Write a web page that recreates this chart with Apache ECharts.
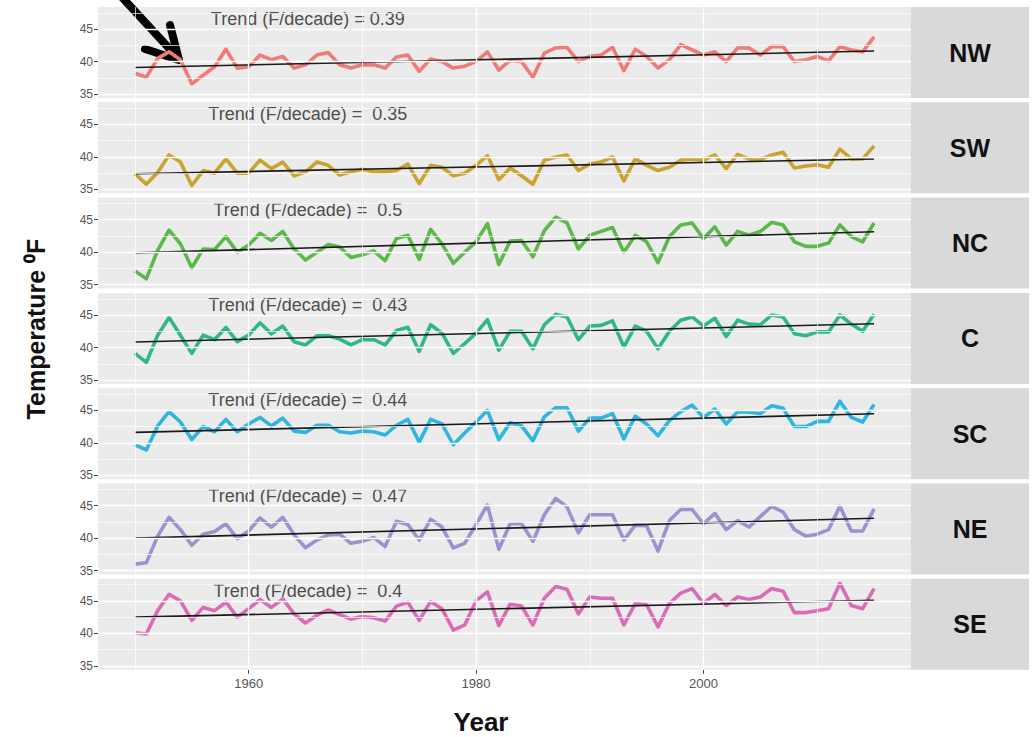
<!DOCTYPE html>
<html><head><meta charset="utf-8">
<script src="https://cdn.jsdelivr.net/npm/echarts@6/dist/echarts.min.js"></script>
<style>html,body{margin:0;padding:0;background:#fff}#c{width:1033px;height:737px}</style>
</head><body><div id="c"></div>
<script>
const years = [1950,1951,1952,1953,1954,1955,1956,1957,1958,1959,1960,1961,1962,1963,1964,1965,1966,1967,1968,1969,
  1970,1971,1972,1973,1974,1975,1976,1977,1978,1979,1980,1981,1982,1983,1984,1985,1986,1987,1988,1989,
  1990,1991,1992,1993,1994,1995,1996,1997,1998,1999,2000,2001,2002,2003,2004,2005,2006,2007,2008,2009,
  2010,2011,2012,2013,2014,2015];
const regions = ['NW','SW','NC','C','SC','NE','SE'];

const NW = [38.2,37.6,40.5,41.5,40.3,36.6,37.9,39.2,41.9,39.0,39.2,41.0,40.3,40.8,39.0,39.5,41.0,41.4,39.5,39.0,
  39.5,39.5,39.0,40.7,41.0,38.5,40.4,40.0,39.0,39.3,40.0,41.5,38.7,40.2,40.0,37.6,41.3,42.1,42.2,40.0,
  40.8,41.0,42.2,38.6,41.9,40.8,39.0,40.3,42.6,41.8,41.0,41.5,40.0,42.1,42.1,41.0,42.3,42.3,40.0,40.3,
  40.8,40.1,42.3,41.8,41.5,43.8];
const SW = [37.4,35.8,37.6,40.3,39.2,35.6,37.9,37.5,39.7,37.5,37.5,39.5,38.2,39.2,37.1,37.7,39.2,38.7,37.2,37.7,
  38.1,37.7,37.7,37.9,38.9,35.9,38.7,38.4,37.1,37.5,38.7,40.2,36.5,38.3,37.1,35.8,39.5,40.0,40.3,37.9,
  38.9,39.2,40.0,36.3,39.7,38.7,37.9,38.4,39.5,39.7,39.5,40.3,38.2,40.4,39.7,39.6,40.3,40.7,38.3,38.6,
  38.8,38.4,41.2,39.7,39.7,41.7];
const NC = [37.1,35.9,40.3,43.4,41.3,37.6,40.5,40.4,42.4,40.0,41.1,42.9,41.8,43.2,40.5,38.8,40.0,41.2,40.8,39.2,
  39.6,40.2,38.7,42.1,42.6,38.9,43.5,41.3,38.3,40.0,41.6,44.4,38.1,41.7,41.8,39.3,43.3,45.4,44.5,40.5,
  42.6,43.2,43.8,40.0,42.6,41.6,38.4,42.4,44.2,44.5,42.1,43.9,41.1,43.2,42.6,43.2,44.6,44.2,41.6,40.9,
  40.9,41.4,44.2,42.4,41.6,44.5];
const C = [39.1,37.7,41.9,44.6,41.9,39.1,41.9,41.2,43.1,40.9,41.9,43.8,42.1,43.3,40.9,40.4,41.8,41.8,41.3,40.4,
  41.2,41.2,40.4,42.6,43.1,39.4,43.5,42.2,39.1,40.6,42.2,44.3,39.6,42.5,42.5,39.8,43.5,45.1,44.7,41.2,
  43.3,43.4,44.1,40.1,43.3,42.5,39.8,42.5,44.2,44.7,43.3,44.5,41.7,44.2,43.6,43.5,45.0,44.7,42.1,41.8,
  42.4,42.4,45.0,43.6,42.5,45.1];
const SC = [39.7,38.9,42.6,44.8,43.2,40.5,42.5,41.7,43.6,41.7,42.9,43.9,42.6,43.8,41.8,41.6,42.7,42.7,41.7,41.5,
  41.8,41.7,41.2,42.7,43.6,40.1,43.6,42.9,39.7,41.5,43.2,45.0,40.5,43.1,42.6,40.3,44.0,45.4,45.4,41.8,
  43.8,43.8,44.5,40.6,44.1,42.9,41.1,43.4,44.8,45.8,43.9,45.2,42.9,44.8,44.7,44.5,45.7,45.3,42.5,42.5,
  43.3,43.3,46.4,43.9,43.2,45.9];
const NE = [36.0,36.2,40.3,43.2,41.3,38.9,40.6,41.0,42.2,39.9,41.1,43.1,41.7,43.2,40.5,38.5,39.7,40.5,40.6,39.2,
  39.5,40.1,38.7,42.6,42.1,39.7,42.9,41.7,38.5,39.2,42.1,45.1,38.3,42.2,42.2,39.5,43.6,46.1,44.8,40.8,
  43.6,43.6,43.6,39.7,42.0,41.9,38.0,42.7,44.4,44.4,42.2,43.8,41.3,42.7,41.7,43.3,44.9,44.0,41.3,40.3,
  40.6,41.3,44.9,41.1,41.1,44.5];
const SE = [40.1,39.9,43.5,46.0,45.0,42.0,44.0,43.5,44.8,42.5,43.8,45.2,44.0,45.3,43.0,41.6,42.8,43.6,42.9,42.2,
  42.6,42.4,41.9,44.2,44.8,42.0,44.9,43.8,40.5,41.3,45.0,46.4,41.2,44.5,44.2,41.3,45.4,47.2,46.8,43.0,
  45.6,45.4,45.4,41.3,44.6,44.4,41.0,44.6,46.2,46.9,44.6,46.0,44.3,45.6,45.2,45.6,46.9,46.5,43.2,43.2,
  43.5,43.8,47.7,44.3,43.8,46.9];
const seriesValues = [NW, SW, NC, C, SC, NE, SE];

const trendRates = [0.39, 0.35, 0.5, 0.43, 0.44, 0.47, 0.4];          // F per decade
const trendAt1950 = [39.1, 37.4, 39.9, 40.85, 41.6, 40.0, 42.5];       // fitted value at first year
const trendLabels = ['Trend (F/decade) = 0.39','Trend (F/decade) =  0.35','Trend (F/decade) =  0.5',
  'Trend (F/decade) =  0.43','Trend (F/decade) =  0.44','Trend (F/decade) =  0.47','Trend (F/decade) =  0.4'];
const labelPos = [1965.2, 46.55];

const yTicks = [35, 40, 45];
const yMinor = [37.5, 42.5, 47.5];
const xTicks = [1960, 1980, 2000];
const xMinor = [1950, 1970, 1990, 2010];
const colors = ['#F07A76','#C9A22F','#5CB84A','#2FB78B','#2EB5E0','#9B92CF','#DA6CB5'];

// layout
const L = 98, W = 813, TOP0 = 7, STEP = 95.3, H = 91, STRIP_W = 118;
const FONT = '"Liberation Sans", Arial, Helvetica, sans-serif';
const xMin = 1946.75, xMax = 2018.25, yMin = 34.4, yMax = 48.4;

const grids = [], xAxes = [], yAxes = [], series = [], graphics = [];
regions.forEach((r, i) => {
  const top = TOP0 + i * STEP;
  const last = i === regions.length - 1;
  grids.push({left: L, top: top, width: W, height: H, show: true, backgroundColor: '#EBEBEB', borderWidth: 0});
  xAxes.push({type: 'value', gridIndex: i, min: xMin, max: xMax,
    axisLine: {show: false}, splitLine: {show: false},
    axisTick: {show: last, customValues: xTicks, length: 4, lineStyle: {color: '#444', width: 1}},
    axisLabel: {show: last, customValues: xTicks, formatter: v => String(v), color: '#555', fontSize: 13, margin: 7, fontFamily: FONT}});
  yAxes.push({type: 'value', gridIndex: i, min: yMin, max: yMax,
    axisLine: {show: false}, splitLine: {show: false},
    axisTick: {show: true, customValues: yTicks, length: 4, lineStyle: {color: '#444', width: 1}},
    axisLabel: {customValues: yTicks, formatter: v => String(v), color: '#555', fontSize: 12, margin: 5, fontFamily: FONT}});
  const gl = [];
  yTicks.forEach(v => gl.push({yAxis: v, lineStyle: {color: '#fff', width: 1.4, type: 'solid'}}));
  yMinor.forEach(v => gl.push({yAxis: v, lineStyle: {color: '#fff', width: 0.7, type: 'solid'}}));
  xTicks.forEach(v => gl.push({xAxis: v, lineStyle: {color: '#fff', width: 1.4, type: 'solid'}}));
  xMinor.forEach(v => gl.push({xAxis: v, lineStyle: {color: '#fff', width: 0.7, type: 'solid'}}));
  series.push({type: 'line', xAxisIndex: i, yAxisIndex: i, data: [[years[0], seriesValues[i][0]]], showSymbol: false,
    lineStyle: {opacity: 0}, silent: true, z: 1, animation: false,
    markLine: {silent: true, symbol: ['none','none'], label: {show: false}, animation: false, data: gl}});
  series.push({type: 'line', xAxisIndex: i, yAxisIndex: i, name: r,
    data: years.map((y, k) => [y, seriesValues[i][k]]), showSymbol: false, z: 2, animation: false,
    lineStyle: {color: colors[i], width: 3.6, join: 'round'}, itemStyle: {color: colors[i]}});
  const y0 = years[0], y1 = years[years.length - 1];
  series.push({type: 'line', xAxisIndex: i, yAxisIndex: i, z: 3, animation: false, showSymbol: false,
    data: [[y0, trendAt1950[i]], [y1, trendAt1950[i] + trendRates[i] * (y1 - y0) / 10]],
    lineStyle: {color: '#1a1a1a', width: 1.6}});
  series.push({type: 'scatter', xAxisIndex: i, yAxisIndex: i, z: 4, animation: false, silent: true,
    symbolSize: 1, itemStyle: {color: 'rgba(0,0,0,0)'},
    data: [labelPos],
    label: {show: true, position: 'inside', formatter: trendLabels[i], color: '#222', fontSize: 18, fontFamily: FONT}});
  graphics.push({type: 'rect', shape: {x: L + W, y: top, width: STRIP_W, height: H}, style: {fill: '#D9D9D9'}, silent: true});
  graphics.push({type: 'text', x: L + W + STRIP_W / 2, y: top + H / 2, silent: true,
    style: {text: r, fill: '#111', font: 'bold 25px ' + FONT, textAlign: 'center', textVerticalAlign: 'middle'}});
});

graphics.push({type: 'text', x: 36, y: 329, rotation: Math.PI / 2, silent: true,
  style: {text: 'Temperature \u2070F', fill: '#111', font: 'bold 25px ' + FONT, textAlign: 'center', textVerticalAlign: 'middle'}});
graphics.push({type: 'text', x: 481, y: 722, silent: true,
  style: {text: 'Year', fill: '#111', font: 'bold 26px ' + FONT, textAlign: 'center', textVerticalAlign: 'middle'}});
// pointer arrow annotation
graphics.push({type: 'polyline', silent: true, shape: {points: [[119, -6], [178, 58]]},
  style: {stroke: '#000', lineWidth: 8, lineCap: 'round', fill: null}});
graphics.push({type: 'polyline', silent: true, shape: {points: [[145, 49], [179, 60], [170, 25]]},
  style: {stroke: '#000', lineWidth: 8, lineCap: 'round', lineJoin: 'round', fill: null}});

const chart = echarts.init(document.getElementById('c'), null, {renderer: 'svg'});
chart.setOption({
  animation: false,
  backgroundColor: '#fff',
  grid: grids, xAxis: xAxes, yAxis: yAxes, series: series, graphic: graphics
});
</script></body></html>
